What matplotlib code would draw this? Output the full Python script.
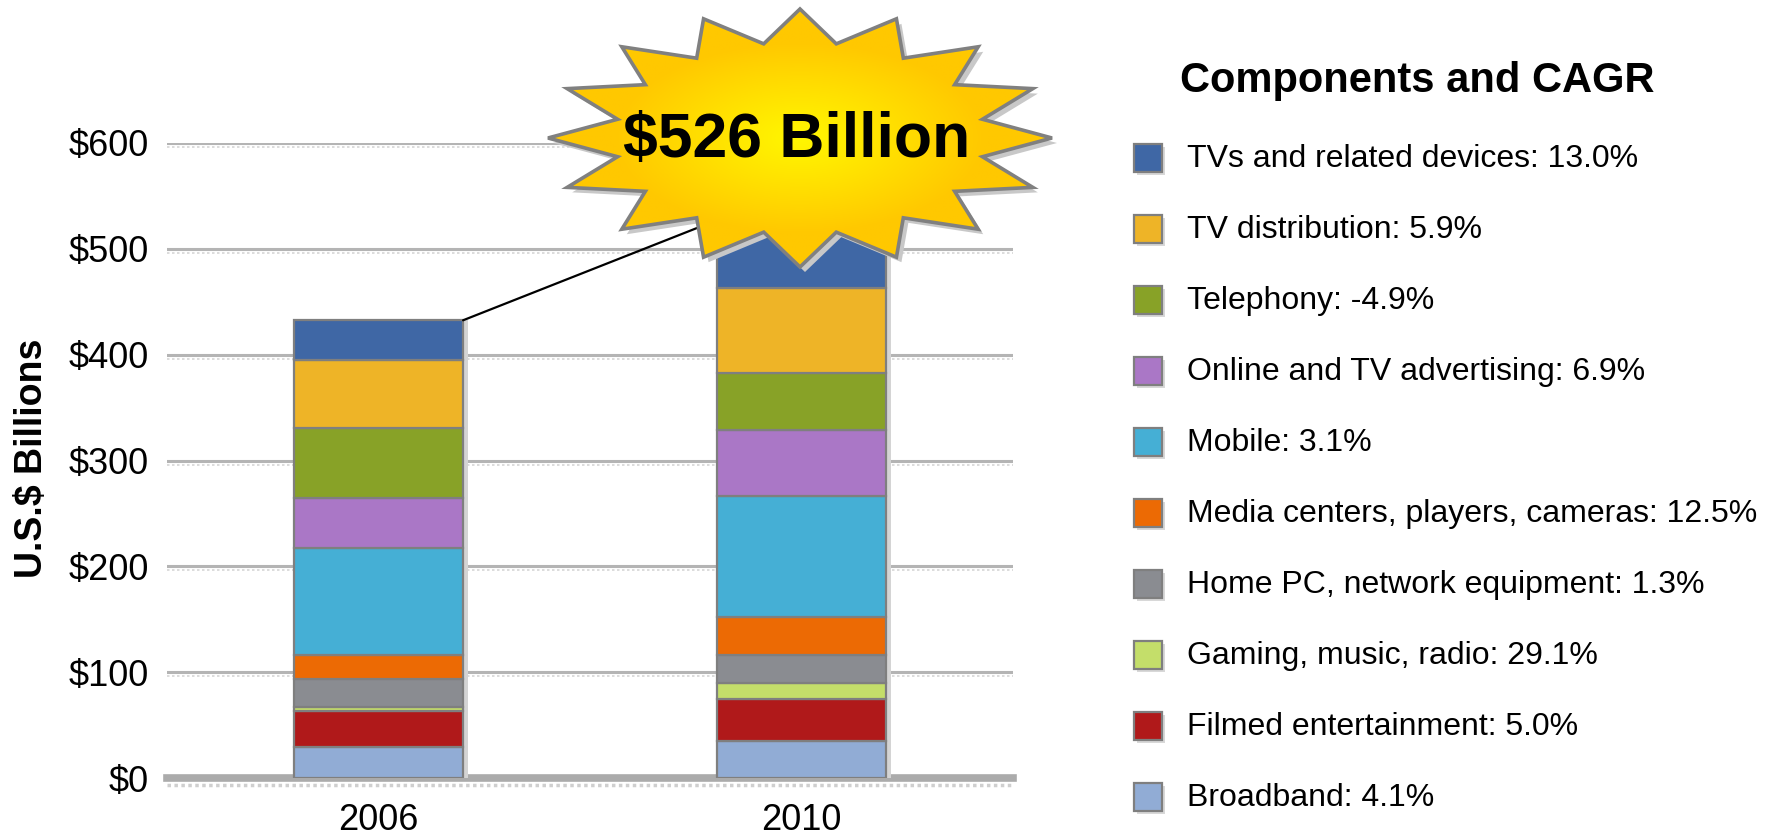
import numpy as np
import matplotlib
matplotlib.use("Agg")
import matplotlib.pyplot as plt
from matplotlib.patches import Polygon, Rectangle, ConnectionPatch
from matplotlib.colors import LinearSegmentedColormap
from matplotlib.transforms import offset_copy

plt.rcParams["font.family"] = ["Liberation Sans", "DejaVu Sans"]

# stacked components, bottom to top
years = ["2006", "2010"]
components = [
    "Broadband",
    "Filmed entertainment",
    "Gaming, music, radio",
    "Home PC, network equipment",
    "Media centers, players, cameras",
    "Mobile",
    "Online and TV advertising",
    "Telephony",
    "TV distribution",
    "TVs and related devices",
]
cagr = ["4.1%", "5.0%", "29.1%", "1.3%", "12.5%", "3.1%", "6.9%", "-4.9%", "5.9%", "13.0%"]
values_2006 = [29, 34, 4.5, 26.5, 22, 101, 48, 66, 63.5, 38]
values_2010 = [35, 40, 14.5, 27, 36, 114, 62.5, 54, 80, 63]
colors = ["#91acd5", "#b0191a", "#c4de6a", "#8a8c91", "#ec6a04",
          "#45afd5", "#aa77c6", "#88a227", "#eeb427", "#3f67a5"]
y_ticks = [0, 100, 200, 300, 400, 500, 600]

W, H = 1773, 835
fig = plt.figure(figsize=(W / 100, H / 100), dpi=100)

# main plot area (pixel box converted to figure fraction)
left, right, top, bottom = 167, 1013, 143, 778
ax = fig.add_axes([left / W, (H - bottom) / H, (right - left) / W, (bottom - top) / H])
ax.set_zorder(1)

x = np.arange(len(years))
bar_w = 0.40
ax.set_xlim(-0.50, 1.50)
ax.set_ylim(0, 600)

# grid lines with a faint dotted shadow under each
shadow_tr = offset_copy(ax.transData, fig=fig, x=0, y=-4, units="dots")
for t in y_ticks[1:]:
    ax.axhline(t, color="#b4b4b4", lw=2.2, zorder=0)
    ax.plot([-0.5, 1.5], [t, t], color="#d6d6d6", lw=1.2, ls=(0, (1.5, 1.5)),
            transform=shadow_tr, zorder=0, clip_on=False)
ax.axhline(0, color="#ababab", lw=5.5, zorder=0.5, clip_on=False)
ax.plot([-0.5, 1.5], [0, 0], color="#cfcfcf", lw=2.5, ls=(0, (1, 1)),
        transform=offset_copy(ax.transData, fig=fig, x=0, y=-7, units="dots"),
        zorder=0.4, clip_on=False)

# stacked bars
series = np.array([values_2006, values_2010])
totals = series.sum(axis=1)
bar_shadow = offset_copy(ax.transData, fig=fig, x=5, y=0, units="dots")
ax.bar(x, totals, width=bar_w, color="#d4d4d4", transform=bar_shadow, zorder=1)
base = np.zeros(len(years))
for i, name in enumerate(components):
    ax.bar(x, series[:, i], width=bar_w, bottom=base, color=colors[i],
           edgecolor="#7f7f7f", linewidth=1.6, zorder=2)
    base += series[:, i]

ax.set_yticks(y_ticks)
ax.set_yticklabels([f"\\${t}" for t in y_ticks], fontsize=26)
ax.set_xticks(x)
ax.set_xticklabels(years, fontsize=26)
ax.tick_params(axis="both", length=0)
ax.tick_params(axis="y", pad=13)
ax.tick_params(axis="x", pad=18)
for s in ax.spines.values():
    s.set_visible(False)

fig.text(32 / W, 1 - 458 / H, "U.S.\\$ Billions", rotation=90, fontsize=27,
         fontweight="bold", ha="center", va="center")

# overlay in pixel coordinates for the burst and the key
ov = fig.add_axes([0, 0, 1, 1])
ov.set_zorder(2)
ov.patch.set_alpha(0)
ov.axis("off")

cx, cy = 800, 138
rx_out, ry_out = 252, 129
rx_in, ry_in = 186, 96
n_spikes = 16
idx = np.arange(2 * n_spikes)
ang = np.deg2rad(90 - idx * 180 / n_spikes)
rx = np.where(idx % 2 == 0, rx_out, rx_in)
ry = np.where(idx % 2 == 0, ry_out, ry_in)
star = np.column_stack([cx + rx * np.cos(ang), cy - ry * np.sin(ang)])

# connector from the 2006 bar top to the burst
con = ConnectionPatch(xyA=(x[0] + bar_w / 2, totals[0]), coordsA="data", axesA=ax,
                      xyB=(697, 228), coordsB="data", axesB=ov,
                      color="black", lw=1.6, zorder=1)
ov.add_artist(con)

ov.add_patch(Polygon(star + [5, 5], closed=True, facecolor="#c8c8c8",
                     edgecolor="none", zorder=2))
burst = Polygon(star, closed=True, facecolor="none", edgecolor="#808080",
                lw=2.6, zorder=4, joinstyle="miter")
ov.add_patch(burst)

gx = np.linspace(cx - rx_out, cx + rx_out, 300)
gy = np.linspace(cy - ry_out, cy + ry_out, 200)
GX, GY = np.meshgrid(gx, gy)
r = np.clip(np.hypot((GX - cx) / rx_in, (GY - cy) / ry_in), 0, 1)
cmap = LinearSegmentedColormap.from_list("burst", ["#fff700", "#ffe000", "#ffc800"])
img = ov.imshow(r, cmap=cmap, vmin=0, vmax=1, aspect="auto",
                extent=(gx[0], gx[-1], gy[-1], gy[0]), origin="upper", zorder=3)
clip = Polygon(star, closed=True, transform=ov.transData)
img.set_clip_path(clip)

ov.text(797, cy + 2, f"\\${totals[1]:.0f} Billion", fontsize=45, fontweight="bold",
        ha="center", va="center", zorder=5)

# key: title plus one row per component, top to bottom
ov.text(1417, 81, "Components and CAGR", fontsize=30, fontweight="bold",
        ha="center", va="center")
row0, row_step = 159, 71
for k, i in enumerate(range(len(components) - 1, -1, -1)):
    yc = row0 + k * row_step
    ov.add_patch(Rectangle((1137, yc - 12), 28, 28, facecolor="#d8d8d8",
                           edgecolor="none"))
    ov.add_patch(Rectangle((1134, yc - 15), 28, 28, facecolor=colors[i],
                           edgecolor="#7f7f7f", lw=1.6))
    ov.text(1187, yc, f"{components[i]}: {cagr[i]}", fontsize=23,
            ha="left", va="center")

ov.set_xlim(0, W)
ov.set_ylim(H, 0)

fig.savefig("out.png", dpi=100)
